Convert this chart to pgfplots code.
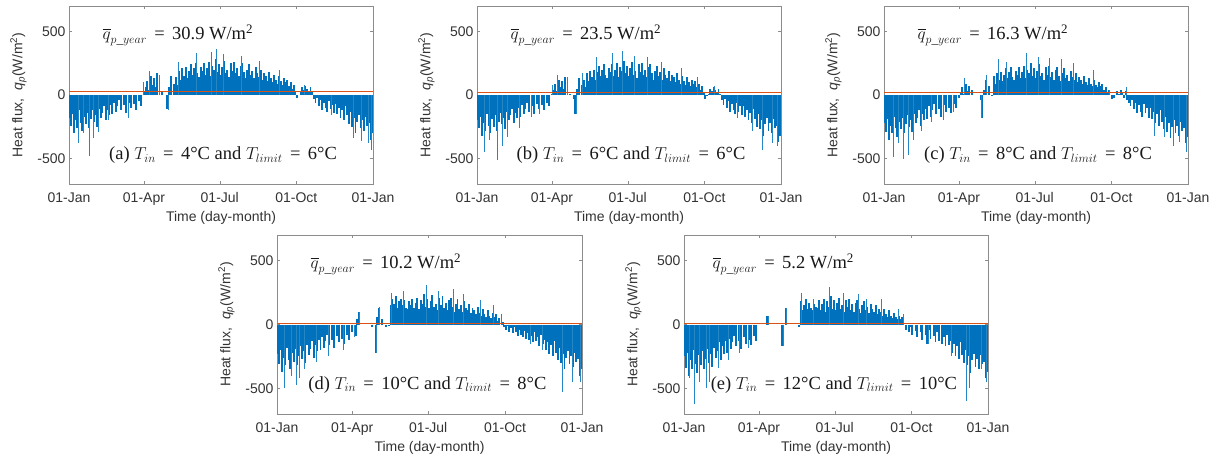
\documentclass[border=0pt]{standalone}
\usepackage{amsmath}
\usepackage{fontspec}
\setmainfont{Liberation Serif}
\setsansfont{Liberation Sans}
\usepackage{pgfplots}
\pgfplotsset{compat=1.18}
\definecolor{mblue}{HTML}{0072BD}
\definecolor{morange}{HTML}{D95319}
\definecolor{boxgray}{HTML}{8C8C8C}
\definecolor{txtgray}{HTML}{333333}
\tikzset{ann/.style={font=\fontsize{18.5}{20}\selectfont, text=black!90}}
\pgfplotsset{
 panel/.style={
  scale only axis, width=304pt, height=178pt,
  xmin=0,xmax=365,ymin=-700,ymax=700,
  xtick={0,90,181,273,365}, xticklabels={01-Jan,01-Apr,01-Jul,01-Oct,01-Jan},
  ytick={-500,0,500}, yticklabels={-500,0,500},
  tick align=inside, major tick length=3pt,
  every tick/.style={boxgray},
  axis line style={boxgray, line width=0.8pt},
  tick label style={font=\sffamily\fontsize{14}{16}\selectfont, text=txtgray},
  label style={font=\sffamily\fontsize{14}{16}\selectfont, text=txtgray},
  xlabel={Time (day-month)},
  ylabel={Heat flux,\ \ \textit{q}\textsubscript{\textit{p}}(W/m\textsuperscript{2})},
  xticklabel style={yshift=-5pt},
  xlabel style={yshift=1pt},
  ylabel style={yshift=4pt},
  clip=true,
 },
 core/.style={ycomb, mblue, line width=1.9pt, mark=none},
 spk/.style={ycomb, mblue!85!white, line width=0.7pt, mark=none},
 avg/.style={draw=morange, line width=0.9pt, mark=none},
}
\newcommand{\eq}{\hspace{0.4em}=\hspace{0.4em}}
\newcommand{\qbar}[1]{$\overline{q}_{p\text{\_}year}$\eq#1 W/m\textsuperscript{2}}
\newcommand{\cond}[3]{(#1) $T_{in}$\eq#2\textdegree C and $T_{limit}$\eq#3\textdegree C}
\begin{document}
\begin{tikzpicture}
\path[use as bounding box] (0,0) rectangle (1226pt,459pt);
% (a)
\begin{axis}[panel, at={(69pt,275pt)}, anchor=south west]
\addplot[core] coordinates {(0,-180)(2,-240)(4,-150)(6,-300)(8,-200)(10,-260)(12,-120)(14,-220)(16,-280)(18,-170)
(20,-230)(22,-140)(24,-260)(26,-190)(28,-120)(30,-210)(32,-160)(34,-250)(36,-110)(38,-180)
(40,-140)(42,-90)(44,-200)(46,-120)(48,-160)(50,-80)(52,-150)(54,-60)(56,-130)(58,-90)
(60,-40)(62,-120)(64,0)(66,-80)(68,-140)(70,0)(72,-60)(74,-100)(76,0)(78,-70)
(80,-120)(82,0)(84,-50)(86,-90)(88,0)(90,20)(92,60)(94,110)(96,40)(98,150)
(100,80)(102,130)(104,60)(106,170)(108,0)(110,0)(112,20)(114,0)(116,0)(118,-110)
(120,60)(122,150)(124,0)(126,90)(128,140)(130,80)(132,190)(134,120)(136,210)(138,150)
(140,220)(142,130)(144,190)(146,240)(148,160)(150,210)(152,250)(154,170)(156,140)(158,220)
(160,190)(162,250)(164,160)(166,210)(168,260)(170,150)(172,230)(174,200)(176,280)(178,180)
(180,240)(182,160)(184,220)(186,270)(188,170)(190,200)(192,140)(194,250)(196,190)(198,260)
(200,170)(202,210)(204,150)(206,230)(208,250)(210,180)(212,130)(214,200)(216,240)(218,160)
(220,190)(222,130)(224,220)(226,170)(228,140)(230,200)(232,120)(234,170)(236,150)(238,110)
(240,180)(242,130)(244,100)(246,160)(248,120)(250,90)(252,150)(254,110)(256,80)(258,130)
(260,100)(262,120)(264,70)(266,100)(268,50)(270,80)(272,30)(274,-20)(276,0)(278,20)
(280,60)(282,40)(284,70)(286,50)(288,30)(290,60)(292,20)(294,-30)(296,-60)(298,-20)
(300,-90)(302,-40)(304,-120)(306,-60)(308,-100)(310,-130)(312,-50)(314,-110)(316,-80)(318,-140)
(320,-70)(322,-150)(324,-100)(326,-180)(328,-120)(330,-200)(332,-90)(334,-160)(336,-230)(338,-130)
(340,-250)(342,-180)(344,-300)(346,-210)(348,-160)(350,-260)(352,-200)(354,-280)(356,-170)(358,-240)
(360,-220)(362,-350)(364,-300)};
\addplot[spk] coordinates {(11,-380)(17,-300)(24,-480)(29,-340)(35,-290)(47,-200)(71,-180)(89,100)(97,190)(109,160)(119,-120)(131,260)(153,330)(171,340)(177,360)(185,320)(207,310)(229,270)(253,200)(283,80)(315,-160)(341,-340)(351,-360)(359,-380)(363,-430)};
\addplot[avg] coordinates {(0,30.9)(365,30.9)};
\node[ann, anchor=west] at (axis cs:36,470) {\qbar{30.9}};
\node[ann] at (axis cs:185,-472) {\cond{a}{4}{6}};
\end{axis}
% (b)
\begin{axis}[panel, at={(477pt,275pt)}, anchor=south west]
\addplot[core] coordinates {(0,-200)(2,-260)(4,-170)(6,-320)(8,-220)(10,-280)(12,-150)(14,-240)(16,-300)(18,-190)
(20,-250)(22,-160)(24,-280)(26,-210)(28,-140)(30,-230)(32,-180)(34,-270)(36,-130)(38,-200)
(40,-160)(42,-110)(44,-220)(46,-140)(48,-180)(50,-100)(52,-170)(54,-80)(56,-150)(58,-110)
(60,-60)(62,-130)(64,0)(66,-90)(68,-150)(70,0)(72,-70)(74,-110)(76,0)(78,-80)
(80,-120)(82,0)(84,-60)(86,-90)(88,0)(90,10)(92,40)(94,90)(96,30)(98,120)
(100,60)(102,110)(104,50)(106,140)(108,0)(110,0)(112,10)(114,0)(116,-30)(118,-150)
(120,50)(122,130)(124,0)(126,80)(128,120)(130,60)(132,170)(134,110)(136,190)(138,140)
(140,200)(142,120)(144,180)(146,230)(148,150)(150,200)(152,240)(154,160)(156,130)(158,210)
(160,180)(162,240)(164,150)(166,200)(168,250)(170,140)(172,220)(174,190)(176,270)(178,170)
(180,230)(182,150)(184,210)(186,260)(188,160)(190,190)(192,130)(194,240)(196,180)(198,250)
(200,160)(202,200)(204,140)(206,220)(208,240)(210,170)(212,120)(214,190)(216,230)(218,150)
(220,180)(222,120)(224,210)(226,160)(228,130)(230,190)(232,110)(234,160)(236,140)(238,100)
(240,170)(242,120)(244,90)(246,150)(248,110)(250,80)(252,140)(254,100)(256,70)(258,120)
(260,90)(262,110)(264,60)(266,90)(268,40)(270,70)(272,20)(274,-30)(276,-10)(278,10)
(280,50)(282,30)(284,60)(286,40)(288,20)(290,50)(292,10)(294,-40)(296,-80)(298,-30)
(300,-100)(302,-50)(304,-130)(306,-70)(308,-120)(310,-150)(312,-60)(314,-130)(316,-90)(318,-160)
(320,-90)(322,-170)(324,-120)(326,-200)(328,-140)(330,-220)(332,-110)(334,-190)(336,-250)(338,-150)
(340,-270)(342,-200)(344,-320)(346,-230)(348,-180)(350,-280)(352,-220)(354,-300)(356,-190)(358,-260)
(360,-240)(362,-370)(364,-320)};
\addplot[spk] coordinates {(9,-450)(15,-350)(25,-510)(31,-400)(37,-330)(51,-260)(65,-170)(75,-150)(91,80)(97,160)(109,140)(119,-150)(127,170)(143,300)(163,330)(175,350)(189,310)(205,300)(221,260)(245,210)(265,140)(285,70)(313,-180)(331,-280)(343,-430)(355,-380)(361,-400)};
\addplot[avg] coordinates {(0,23.5)(365,23.5)};
\node[ann, anchor=west] at (axis cs:36,470) {\qbar{23.5}};
\node[ann] at (axis cs:185,-472) {\cond{b}{6}{6}};
\end{axis}
% (c)
\begin{axis}[panel, at={(884pt,275pt)}, anchor=south west]
\addplot[core] coordinates {(0,-220)(2,-290)(4,-190)(6,-350)(8,-240)(10,-300)(12,-170)(14,-260)(16,-330)(18,-210)
(20,-270)(22,-180)(24,-300)(26,-230)(28,-160)(30,-250)(32,-200)(34,-290)(36,-150)(38,-220)
(40,-180)(42,-120)(44,-240)(46,-150)(48,-200)(50,-110)(52,-190)(54,-90)(56,-170)(58,-120)
(60,-70)(62,-150)(64,0)(66,-110)(68,-170)(70,0)(72,-80)(74,-130)(76,0)(78,-100)
(80,-140)(82,0)(84,-70)(86,-100)(88,0)(90,-20)(92,20)(94,60)(96,10)(98,90)
(100,30)(102,70)(104,0)(106,40)(108,0)(110,0)(112,0)(114,0)(116,-40)(118,-180)
(120,40)(122,120)(124,0)(126,70)(128,0)(130,-10)(132,150)(134,90)(136,170)(138,120)
(140,180)(142,110)(144,160)(146,210)(148,130)(150,180)(152,220)(154,140)(156,120)(158,190)
(160,160)(162,220)(164,130)(166,180)(168,230)(170,130)(172,200)(174,170)(176,250)(178,150)
(180,210)(182,130)(184,190)(186,240)(188,150)(190,170)(192,120)(194,220)(196,160)(198,230)
(200,140)(202,180)(204,120)(206,200)(208,220)(210,150)(212,110)(214,170)(216,210)(218,130)
(220,160)(222,110)(224,190)(226,140)(228,120)(230,170)(232,100)(234,140)(236,120)(238,90)
(240,150)(242,100)(244,80)(246,130)(248,90)(250,70)(252,120)(254,80)(256,60)(258,100)
(260,70)(262,90)(264,40)(266,60)(268,20)(270,40)(272,0)(274,-30)(276,-20)(278,0)
(280,30)(282,10)(284,40)(286,20)(288,-20)(290,30)(292,-40)(294,-60)(296,-90)(298,-40)
(300,-110)(302,-60)(304,-140)(306,-80)(308,-130)(310,-170)(312,-70)(314,-140)(316,-100)(318,-180)
(320,-100)(322,-190)(324,-130)(326,-220)(328,-150)(330,-240)(332,-120)(334,-210)(336,-270)(338,-170)
(340,-290)(342,-220)(344,-340)(346,-250)(348,-200)(350,-300)(352,-240)(354,-320)(356,-210)(358,-280)
(360,-260)(362,-380)(364,-330)};
\addplot[spk] coordinates {(11,-490)(17,-380)(23,-500)(29,-470)(35,-350)(45,-280)(57,-210)(71,-200)(83,-130)(97,130)(117,-180)(123,160)(137,280)(147,260)(171,330)(185,300)(199,290)(213,280)(227,250)(251,200)(271,40)(291,60)(325,-320)(337,-330)(347,-400)(355,-370)(363,-450)};
\addplot[avg] coordinates {(0,16.3)(365,16.3)};
\node[ann, anchor=west] at (axis cs:36,470) {\qbar{16.3}};
\node[ann] at (axis cs:185,-472) {\cond{c}{8}{8}};
\end{axis}
% (d)
\begin{axis}[panel, height=179pt, width=305pt, at={(277pt,45pt)}, anchor=south west]
\addplot[core] coordinates {(0,-230)(2,-310)(4,-200)(6,-370)(8,-260)(10,-320)(12,-180)(14,-280)(16,-350)(18,-220)
(20,-290)(22,-190)(24,-320)(26,-250)(28,-170)(30,-270)(32,-210)(34,-300)(36,-160)(38,-240)
(40,-190)(42,-130)(44,-260)(46,-160)(48,-210)(50,-120)(52,-200)(54,-100)(56,-180)(58,-130)
(60,-80)(62,-160)(64,0)(66,-120)(68,-180)(70,0)(72,-90)(74,-140)(76,0)(78,-110)
(80,-150)(82,0)(84,-80)(86,-120)(88,0)(90,-60)(92,0)(94,-90)(96,40)(98,100)
(100,0)(102,0)(104,0)(106,0)(108,0)(110,0)(112,0)(114,-20)(116,0)(118,-220)
(120,60)(122,130)(124,0)(126,40)(128,0)(130,-20)(132,0)(134,-10)(136,150)(138,200)
(140,160)(142,220)(144,130)(146,180)(148,200)(150,150)(152,190)(154,130)(156,120)(158,180)
(160,150)(162,200)(164,130)(166,170)(168,210)(170,120)(172,190)(174,160)(176,240)(178,140)
(180,200)(182,130)(184,180)(186,230)(188,140)(190,160)(192,110)(194,210)(196,150)(198,220)
(200,130)(202,170)(204,110)(206,190)(208,210)(210,140)(212,100)(214,160)(216,200)(218,120)
(220,150)(222,100)(224,180)(226,130)(228,110)(230,160)(232,90)(234,130)(236,110)(238,80)
(240,140)(242,90)(244,70)(246,120)(248,80)(250,60)(252,110)(254,70)(256,50)(258,90)
(260,60)(262,80)(264,30)(266,50)(268,0)(270,20)(272,-20)(274,-40)(276,-10)(278,-60)
(280,-30)(282,-70)(284,-20)(286,-60)(288,-90)(290,-40)(292,-80)(294,-100)(296,-50)(298,-110)
(300,-70)(302,-120)(304,-90)(306,-140)(308,-60)(310,-130)(312,-100)(314,-170)(316,-80)(318,-150)
(320,-120)(322,-200)(324,-140)(326,-230)(328,-160)(330,-250)(332,-130)(334,-220)(336,-280)(338,-180)
(340,-300)(342,-230)(344,-350)(346,-260)(348,-210)(350,-310)(352,-250)(354,-330)(356,-220)(358,-290)
(360,-270)(362,-400)(364,-350)};
\addplot[spk] coordinates {(9,-500)(17,-400)(23,-470)(27,-420)(33,-350)(47,-290)(61,-250)(79,-200)(93,-100)(99,100)(119,-220)(123,140)(137,250)(151,260)(179,310)(193,260)(211,280)(223,240)(243,190)(259,150)(269,80)(303,-150)(317,-200)(341,-530)(353,-450)(363,-450)};
\addplot[avg] coordinates {(0,10.2)(365,10.2)};
\node[ann, anchor=west] at (axis cs:36,470) {\qbar{10.2}};
\node[ann] at (axis cs:180,-472) {\cond{d}{10}{8}};
\end{axis}
% (e)
\begin{axis}[panel, height=179pt, at={(684pt,45pt)}, anchor=south west]
\addplot[core] coordinates {(0,-250)(2,-340)(4,-220)(6,-400)(8,-280)(10,-350)(12,-200)(14,-310)(16,-380)(18,-240)
(20,-320)(22,-210)(24,-350)(26,-270)(28,-190)(30,-300)(32,-230)(34,-330)(36,-180)(38,-260)
(40,-210)(42,-140)(44,-280)(46,-170)(48,-230)(50,-130)(52,-220)(54,-110)(56,-190)(58,-140)
(60,-90)(62,-170)(64,0)(66,-130)(68,-190)(70,0)(72,-100)(74,-150)(76,0)(78,-120)
(80,-160)(82,0)(84,-90)(86,-130)(88,0)(90,0)(92,0)(94,0)(96,0)(98,0)
(100,70)(102,0)(104,0)(106,0)(108,0)(110,0)(112,0)(114,0)(116,0)(118,-170)
(120,0)(122,130)(124,0)(126,0)(128,0)(130,0)(132,0)(134,0)(136,0)(138,-20)
(140,180)(142,110)(144,150)(146,200)(148,120)(150,170)(152,130)(154,110)(156,160)(158,140)
(160,130)(162,190)(164,110)(166,160)(168,200)(170,100)(172,180)(174,140)(176,220)(178,120)
(180,190)(182,110)(184,170)(186,210)(188,120)(190,150)(192,100)(194,190)(196,140)(198,200)
(200,110)(202,160)(204,100)(206,170)(208,190)(210,120)(212,90)(214,150)(216,180)(218,110)
(220,140)(222,90)(224,160)(226,120)(228,100)(230,150)(232,80)(234,120)(236,100)(238,70)
(240,120)(242,80)(244,60)(246,110)(248,70)(250,50)(252,90)(254,60)(256,40)(258,70)
(260,40)(262,60)(264,0)(266,-40)(268,0)(270,-60)(272,-20)(274,-80)(276,0)(278,-50)
(280,-100)(282,0)(284,-60)(286,-120)(288,0)(290,-80)(292,-150)(294,-40)(296,-110)(298,0)
(300,-90)(302,-140)(304,-60)(306,-130)(308,0)(310,-150)(312,-100)(314,-170)(316,-80)(318,-160)
(320,-130)(322,-220)(324,-150)(326,-250)(328,-170)(330,-270)(332,-140)(334,-240)(336,-300)(338,-200)
(340,-320)(342,-250)(344,-380)(346,-280)(348,-230)(350,-330)(352,-270)(354,-350)(356,-240)(358,-310)
(360,-290)(362,-420)(364,-370)};
\addplot[spk] coordinates {(7,-420)(13,-620)(19,-450)(27,-500)(31,-450)(41,-340)(53,-280)(67,-220)(77,-180)(101,70)(119,-170)(123,130)(141,250)(155,200)(175,290)(191,250)(209,240)(219,200)(237,200)(257,120)(263,80)(293,-150)(321,-250)(339,-600)(343,-500)(357,-350)(363,-450)};
\addplot[avg] coordinates {(0,5.2)(365,5.2)};
\node[ann, anchor=west] at (axis cs:30,470) {\qbar{5.2}};
\node[ann] at (axis cs:180,-472) {\cond{e}{12}{10}};
\end{axis}
\end{tikzpicture}
\end{document}
